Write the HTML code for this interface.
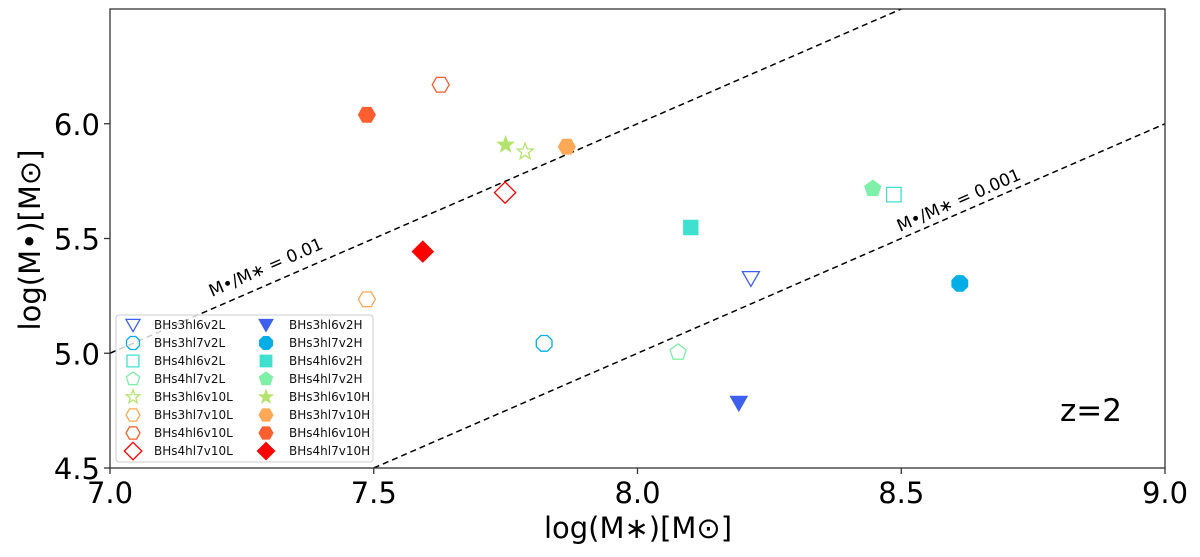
<!DOCTYPE html>
<html><head><meta charset="utf-8"><style>
body{margin:0;background:#fff;}
svg{display:block;font-family:"DejaVu Sans","Liberation Sans",sans-serif;}
</style></head><body>
<svg id="c" width="1200" height="557" viewBox="0 0 1200 557"></svg>
<script>
const names=["BHs3hl6v2L","BHs3hl7v2L","BHs4hl6v2L","BHs4hl7v2L","BHs3hl6v10L","BHs3hl7v10L","BHs4hl6v10L","BHs4hl7v10L","BHs3hl6v2H","BHs3hl7v2H","BHs4hl6v2H","BHs4hl7v2H","BHs3hl6v10H","BHs3hl7v10H","BHs4hl6v10H","BHs4hl7v10H"];
const xVals=[8.215,7.823,8.486,8.077,7.787,7.487,7.627,7.749,8.192,8.611,8.101,8.446,7.75,7.866,7.487,7.593];
const yVals=[5.326,5.043,5.691,5.004,5.878,5.235,6.17,5.70,4.783,5.304,5.548,5.717,5.908,5.90,6.039,5.443];
const colors=["#3f5ff0","#03aee6","#3fe0d0","#7ff0a8","#b4e46e","#ffa856","#ff5e2e","#ff0000"];
const shapes=["tri","oct","sq","pent","star","hex","hex","dia"];
const xTicks=[7.0,7.5,8.0,8.5,9.0];
const yTicks=[4.5,5.0,5.5,6.0];
const ratios=[0.01,0.001];
const ratioLabels=["M\u2022/M\u2217 = 0.01","M\u2022/M\u2217 = 0.001"];

const NS="http://www.w3.org/2000/svg";
const svg=document.getElementById('c');
const L=110,R=1165,T=9,B=468,X0=7,X1=9,Y0=4.5,Y1=6.5;
const sx=v=>L+(v-X0)/(X1-X0)*(R-L);
const sy=v=>B-(v-Y0)/(Y1-Y0)*(B-T);
function el(t,a,p){const e=document.createElementNS(NS,t);for(const k in a)e.setAttribute(k,a[k]);(p||svg).appendChild(e);return e;}
function poly(n,r,rot){let p=[];for(let i=0;i<n;i++){const a=rot+i*2*Math.PI/n;p.push([r*Math.cos(a),r*Math.sin(a)]);}return p;}
function shapePts(s,r){
 if(s==="tri")return [[-r,-r*0.8],[r,-r*0.8],[0,r*0.95]];
 if(s==="sq")return [[-r*0.85,-r*0.85],[r*0.85,-r*0.85],[r*0.85,r*0.85],[-r*0.85,r*0.85]];
 if(s==="dia")return [[0,-r*1.25],[r*1.25,0],[0,r*1.25],[-r*1.25,0]];
 if(s==="oct")return poly(8,r,Math.PI/8);
 if(s==="hex")return poly(6,r,0);
 if(s==="pent")return poly(5,r,-Math.PI/2);
 if(s==="star"){let p=[];for(let i=0;i<10;i++){const a=-Math.PI/2+i*Math.PI/5,rr=i%2?r*0.42:r;p.push([rr*Math.cos(a),rr*Math.sin(a)]);}return p;}
}
function marker(s,cx,cy,r,col,filled,g){
 const pts=shapePts(s,r).map(p=>(cx+p[0]).toFixed(1)+","+(cy+p[1]).toFixed(1)).join(" ");
 return el('polygon',{points:pts,fill:filled?col:'none',stroke:col,'stroke-width':filled?1:1.3},g);
}
const lines=el('g',{});


ratios.forEach((r,i)=>{
 const off=Math.log10(r);
 let xa=X0,xb=X1;
 if(xa+off<Y0)xa=Y0-off; if(xb+off>Y1)xb=Y1-off;
 const ln=el('line',{x1:sx(xa),y1:sy(xa+off),x2:sx(xb),y2:sy(xb+off),stroke:'#000','stroke-width':1.5,'stroke-dasharray':'6,4'},lines);
 
 
});
const ang=-Math.atan((B-T)/(Y1-Y0)/((R-L)/(X1-X0)))*180/Math.PI;
const lab1=el('text',{x:212,y:297,'font-size':17,transform:`rotate(${ang} 212 297)`});
lab1.textContent=ratioLabels[0];


const lab2=el('text',{x:900,y:232,'font-size':17,transform:`rotate(${ang} 900 232)`});
lab2.textContent=ratioLabels[1];


const pg=el('g',{});


names.forEach((n,i)=>{
 const k=i%8,filled=i>=8;
 const m=marker(shapes[k],sx(xVals[i]),sy(yVals[i]),8.5,colors[k],filled,pg);
 
 
});
const lg=el('g',{});


el('rect',{x:116,y:315,width:257,height:147,rx:3,fill:'rgba(255,255,255,0.8)',stroke:'#ccc'},lg);
names.forEach((n,i)=>{
 const k=i%8,col=i>=8?1:0,y=325+k*18;
 const mx=col?266:133,tx=col?289:154;
 const m=marker(shapes[k],mx,y,7,colors[k],col===1,lg);
 
 
 const t=el('text',{x:tx,y:y+4,'font-size':12,fill:'#111'},lg);
 t.textContent=n;
 
 
});
const fr=el('rect',{x:L,y:T,width:R-L,height:B-T,fill:'none',stroke:'#333','stroke-width':1.3});


xTicks.forEach(v=>{
 el('line',{x1:sx(v),y1:B,x2:sx(v),y2:B+6,stroke:'#333','stroke-width':1.3});
 const t=el('text',{x:sx(v),y:B+35,'font-size':29,'text-anchor':'middle'});
 t.textContent=v.toFixed(1);
 
 
});
yTicks.forEach(v=>{
 el('line',{x1:L-6,y1:sy(v),x2:L,y2:sy(v),stroke:'#333','stroke-width':1.3});
 const t=el('text',{x:L-10,y:sy(v)+11,'font-size':29,'text-anchor':'end'});
 t.textContent=v.toFixed(1);
 
 
});
const xt=el('text',{x:638,y:538,'font-size':29,'text-anchor':'middle'});
xt.textContent="log(M\u2217)[M\u2299]";


const yt=el('text',{x:40,y:240,'font-size':29,'text-anchor':'middle',transform:'rotate(-90 40 240)'});
yt.textContent="log(M\u2022)[M\u2299]";


const zt=el('text',{x:1060,y:421,'font-size':31});
zt.textContent="z=2";


</script>
</body></html>
